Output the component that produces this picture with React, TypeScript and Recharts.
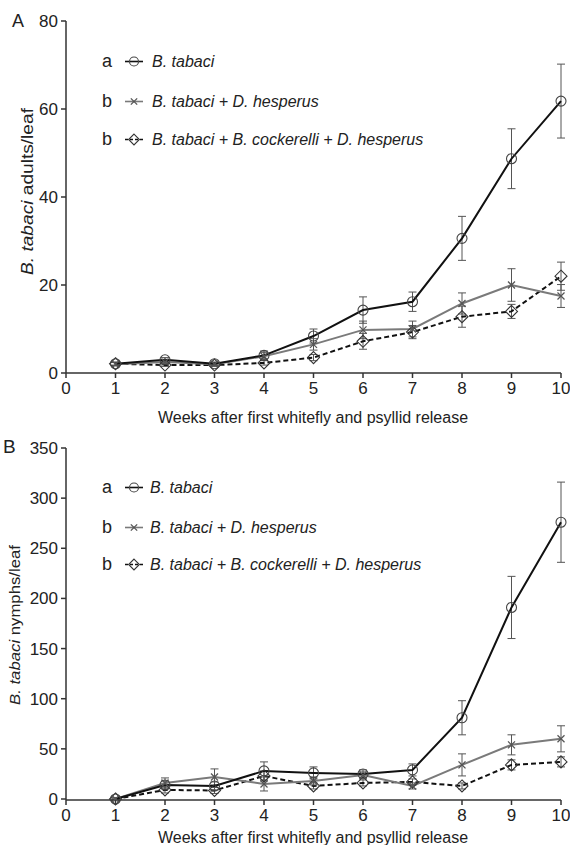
import React from 'react';
import { LineChart, Line, XAxis, YAxis, ErrorBar, Legend } from 'recharts';

const FONT = '"Liberation Sans", Arial, Helvetica, sans-serif';

const weeks = [1, 2, 3, 4, 5, 6, 7, 8, 9, 10];
const xTicks = [0, 1, 2, 3, 4, 5, 6, 7, 8, 9, 10];
const adultTicks = [0, 20, 40, 60, 80];
const nymphTicks = [0, 50, 100, 150, 200, 250, 300, 350];

const seriesNames = ['B. tabaci', 'B. tabaci + D. hesperus', 'B. tabaci + B. cockerelli + D. hesperus'];
const seriesLetters = ['a', 'b', 'b'];
const xLabelText = 'Weeks after first whitefly and psyllid release';

// Panel A: adults per leaf
const adultsBt = [2.1, 3.0, 2.1, 4.0, 8.4, 14.3, 16.2, 30.6, 48.7, 61.8];
const adultsBtErr = [0.4, 0.5, 0.4, 1.0, 1.6, 3.0, 2.2, 5.0, 6.8, 8.4];
const adultsBtDh = [2.0, 2.5, 2.0, 3.8, 6.5, 9.8, 10.0, 15.8, 20.0, 17.5];
const adultsBtDhErr = [0.4, 0.4, 0.3, 0.9, 1.3, 2.0, 1.8, 2.4, 3.7, 2.6];
const adultsBtBcDh = [2.1, 1.8, 1.8, 2.3, 3.5, 7.2, 9.3, 12.8, 14.0, 22.0];
const adultsBtBcDhErr = [0.3, 0.3, 0.3, 0.5, 0.7, 1.8, 1.5, 2.4, 1.6, 3.2];

// Panel B: nymphs per leaf
const nymphsBt = [0, 14, 13, 28, 26, 25, 29, 81, 191, 276];
const nymphsBtErr = [1, 4, 4, 9, 6, 4, 6, 17, 31, 40];
const nymphsBtDh = [0, 16, 22, 15, 18, 24, 13, 34, 54, 60];
const nymphsBtDhErr = [1, 5, 8, 7, 4, 3, 3, 11, 10, 13];
const nymphsBtBcDh = [0, 9, 8.5, 23, 13, 16, 17, 13, 34, 37];
const nymphsBtBcDhErr = [1, 3, 3, 5, 3, 3, 3, 3, 5, 5];

const buildData = (a: number[], ae: number[], b: number[], be: number[], c: number[], ce: number[]) =>
  weeks.map((w, i) => ({ week: w, a: a[i], aErr: ae[i], b: b[i], bErr: be[i], c: c[i], cErr: ce[i] }));

const adultsData = buildData(adultsBt, adultsBtErr, adultsBtDh, adultsBtDhErr, adultsBtBcDh, adultsBtBcDhErr);
const nymphsData = buildData(nymphsBt, nymphsBtErr, nymphsBtDh, nymphsBtDhErr, nymphsBtBcDh, nymphsBtBcDhErr);

const SERIES = [
  { key: 'a', stroke: '#111', dash: undefined as string | undefined, marker: 'circle' },
  { key: 'b', stroke: '#7a7a7a', dash: undefined as string | undefined, marker: 'cross' },
  { key: 'c', stroke: '#111', dash: '5 3', marker: 'diamond' },
];

function Marker({ type, cx, cy, s = 1 }: { type: string; cx: number; cy: number; s?: number }) {
  if (type === 'circle') {
    return <circle cx={cx} cy={cy} r={5 * s} fill="none" stroke="#444" strokeWidth={1.1} />;
  }
  if (type === 'cross') {
    const h = 3.5 * s;
    return (
      <g stroke="#555" strokeWidth={1.3}>
        <line x1={cx - h} y1={cy - h} x2={cx + h} y2={cy + h} />
        <line x1={cx - h} y1={cy + h} x2={cx + h} y2={cy - h} />
      </g>
    );
  }
  const d = 6 * s;
  return (
    <path
      d={`M${cx},${cy - d}L${cx + d},${cy}L${cx},${cy + d}L${cx - d},${cy}Z`}
      fill="none"
      stroke="#333"
      strokeWidth={1.1}
    />
  );
}

const makeDot = (type: string) => (props: any) => {
  const { cx, cy, index } = props;
  if (cx == null || cy == null) return <g key={`e-${type}-${index}`} />;
  return (
    <g key={`d-${type}-${index}`}>
      <Marker type={type} cx={cx} cy={cy} />
    </g>
  );
};

type PanelCfg = {
  top: number;
  height: number;
  marginTop: number;
  marginBottom: number;
  data: any[];
  yDomain: [number, number];
  yTicks: number[];
  letter: string;
  letterX: number;
  letterY: number;
  letterSize: number;
  yLabelMain: string;
  yLabelX: number;
  yLabelY: number;
  yLabelSize: number;
  yLabelLength: number;
  xLabelY: number;
  legendBaselines: number[];
  legendTextX: number;
};

function Panel(cfg: PanelCfg) {
  const off = cfg.top;
  const renderXLabel = () => (
    <text x={313} y={cfg.xLabelY - off} textAnchor="middle" fontSize={16} fill="#222" fontFamily={FONT}>
      {xLabelText}
    </text>
  );
  const renderYLabel = () => {
    const x = cfg.yLabelX;
    const y = cfg.yLabelY - off;
    return (
      <g>
        <text
          x={x}
          y={y}
          transform={`rotate(-90, ${x}, ${y})`}
          textAnchor="middle"
          fontSize={cfg.yLabelSize}
          textLength={cfg.yLabelLength}
          lengthAdjust="spacingAndGlyphs"
          fill="#222"
          fontFamily={FONT}
        >
          <tspan fontStyle="italic">B. tabaci</tspan>
          <tspan>{' ' + cfg.yLabelMain}</tspan>
        </text>
        <text x={cfg.letterX} y={cfg.letterY - off} fontSize={cfg.letterSize} fill="#222" fontFamily={FONT}>
          {cfg.letter}
        </text>
      </g>
    );
  };
  const renderLegend = () => (
    <svg width={570} height={200} style={{ overflow: 'visible', display: 'block' }}>
      {seriesNames.map((name, i) => {
        const base = cfg.legendBaselines[i] - off;
        const my = base - 5.5;
        const s = SERIES[i];
        return (
          <g key={name}>
            <text x={102} y={base} fontSize={18} fill="#222" fontFamily={FONT}>
              {seriesLetters[i]}
            </text>
            <line x1={125} y1={my} x2={143} y2={my} stroke={s.stroke} strokeWidth={1.6} strokeDasharray={s.dash ? '3 2' : undefined} />
            <Marker type={s.marker} cx={134} cy={my} s={0.9} />
            <text x={cfg.legendTextX} y={base} fontSize={16} fontStyle="italic" fill="#222" fontFamily={FONT}>
              {name}
            </text>
          </g>
        );
      })}
    </svg>
  );

  return (
    <div style={{ position: 'absolute', left: 0, top: cfg.top, width: 570, height: cfg.height }}>
      <LineChart
        width={570}
        height={cfg.height}
        data={cfg.data}
        margin={{ top: cfg.marginTop, right: 9, bottom: cfg.marginBottom, left: 0 }}
      >
        <XAxis
          type="number"
          dataKey="week"
          domain={[0, 10]}
          ticks={xTicks}
          interval={0}
          height={40}
          tickSize={5}
          tickMargin={4}
          axisLine={{ stroke: '#333', strokeWidth: 1.5 }}
          tickLine={{ stroke: '#333', strokeWidth: 1.5 }}
          tick={{ fontSize: 17, fill: '#222', fontFamily: FONT }}
          label={renderXLabel}
        />
        <YAxis
          type="number"
          domain={cfg.yDomain}
          ticks={cfg.yTicks}
          interval={0}
          width={66}
          tickSize={5}
          tickMargin={3}
          axisLine={{ stroke: '#333', strokeWidth: 1.5 }}
          tickLine={{ stroke: '#333', strokeWidth: 1.5 }}
          tick={{ fontSize: 17, fill: '#222', fontFamily: FONT }}
          label={renderYLabel}
        />
        <Legend
          layout="vertical"
          align="center"
          verticalAlign="middle"
          wrapperStyle={{ position: 'absolute', left: 0, top: 0, width: 570, height: 1 }}
          content={renderLegend}
        />
        {[2, 1, 0].map((i) => {
          const s = SERIES[i];
          return (
            <Line
              key={s.key}
              type="linear"
              dataKey={s.key}
              name={seriesNames[i]}
              stroke={s.stroke}
              strokeWidth={2}
              strokeDasharray={s.dash}
              dot={makeDot(s.marker)}
              activeDot={false}
              isAnimationActive={false}
            >
              <ErrorBar
                dataKey={`${s.key}Err`}
                direction="y"
                width={4}
                stroke="#555"
                strokeWidth={1}
                isAnimationActive={false}
              />
            </Line>
          );
        })}
      </LineChart>
    </div>
  );
}

export default function App() {
  return (
    <div style={{ position: 'absolute', left: 0, top: 0, width: 570, height: 845, overflow: 'hidden', background: '#fff' }}>
      <Panel
        top={0}
        height={440}
        marginTop={21}
        marginBottom={27}
        data={adultsData}
        yDomain={[0, 80]}
        yTicks={adultTicks}
        letter="A"
        letterX={12}
        letterY={27}
        letterSize={18}
        yLabelMain="adults/leaf"
        yLabelX={33}
        yLabelY={191.5}
        yLabelSize={17}
        yLabelLength={167}
        xLabelY={422.5}
        legendBaselines={[67, 107, 145]}
        legendTextX={152}
      />
      <Panel
        top={420}
        height={425}
        marginTop={28}
        marginBottom={5}
        data={nymphsData}
        yDomain={[0, 350]}
        yTicks={nymphTicks}
        letter="B"
        letterX={3}
        letterY={453}
        letterSize={19}
        yLabelMain="nymphs/leaf"
        yLabelX={20}
        yLabelY={625}
        yLabelSize={15}
        yLabelLength={160}
        xLabelY={843}
        legendBaselines={[493, 533, 570]}
        legendTextX={150}
      />
    </div>
  );
}
